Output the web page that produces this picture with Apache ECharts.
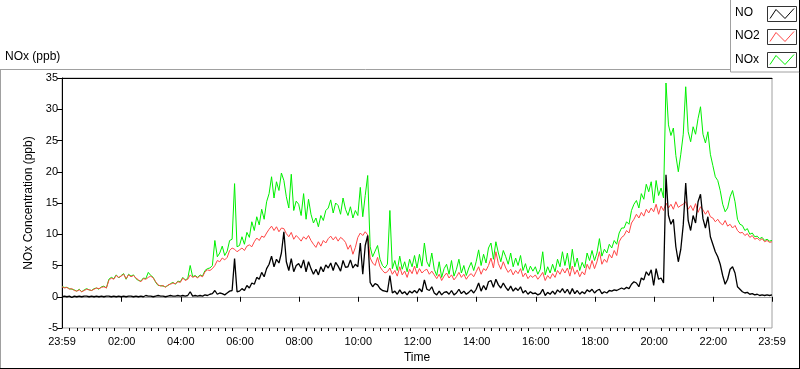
<!DOCTYPE html>
<html>
<head>
<meta charset="utf-8">
<script src="https://cdn.jsdelivr.net/npm/echarts@6/dist/echarts.min.js"></script>
<style>
html,body{margin:0;padding:0;background:#fff;}
#chart{width:800px;height:369px;}
</style>
</head>
<body>
<div id="chart"></div>
<script>
// Sampling step of the series (minutes from 23:59 of the previous day)
const STEP_MIN = 5;

// Tick labels of the time axis and their positions (minutes from 23:59)
const TICK_LABELS = ['23:59','02:00','04:00','06:00','08:00','10:00','12:00','14:00','16:00','18:00','20:00','22:00','23:59'];
const TICK_MINUTES = [0,121,241,361,481,601,721,841,961,1081,1201,1321,1440];

// NO2 (ppb), every 5 min
const NO2 = [
1.6,1.4,1.5,1.2,1.3,1.0,0.9,1.1,0.8,1.0,1.2,1.1,
1.0,1.2,1.4,1.3,1.5,1.6,1.4,2.6,3.0,2.8,3.4,3.1,
3.3,3.6,2.9,3.5,3.2,3.4,3.0,2.7,2.4,2.9,2.8,3.1,
3.3,3.0,2.4,1.9,1.7,1.8,1.5,1.9,2.0,2.2,2.1,2.4,
2.3,3.0,2.6,2.8,3.5,3.1,3.3,3.0,3.4,3.2,4.0,4.3,
4.2,4.5,5.0,5.8,5.6,6.2,5.9,6.3,7.4,7.8,7.6,7.2,
7.5,7.8,7.4,8.1,8.3,8.0,8.8,9.4,9.0,9.7,9.5,10.2,
10.8,11.3,10.6,11.2,10.4,11.0,10.9,10.1,9.6,10.3,9.2,9.8,
9.4,8.9,9.6,9.2,9.8,9.0,8.4,7.9,8.8,8.1,9.0,8.6,
9.3,9.7,9.1,9.6,8.9,9.5,9.2,8.7,7.6,8.3,6.8,7.9,
9.5,10.2,9.8,10.4,9.9,6.2,5.4,5.0,6.3,4.8,4.2,3.8,
4.0,4.6,3.6,4.2,3.3,4.8,3.5,4.1,3.1,4.4,3.7,4.9,
3.6,4.5,3.8,4.2,4.4,3.6,4.1,3.5,2.9,3.6,2.6,3.3,
3.8,3.0,3.5,2.7,3.2,3.9,3.1,3.6,2.8,3.4,3.7,3.2,
4.0,4.8,3.6,4.5,4.2,5.0,6.2,4.6,7.2,5.3,4.4,5.6,
4.6,3.9,4.4,3.5,4.2,3.7,4.5,3.2,3.8,2.9,3.4,3.1,
3.5,2.8,3.3,3.9,2.6,3.4,2.9,3.7,3.1,4.2,3.6,4.5,
3.8,4.6,3.3,4.9,3.6,4.3,3.2,4.0,3.5,5.2,4.4,5.8,
4.5,5.6,7.2,5.2,6.0,5.5,6.8,6.2,7.4,6.6,8.8,9.5,
9.8,10.6,10.2,11.8,12.4,13.2,12.6,13.5,12.9,14.0,13.4,14.2,
13.6,14.8,13.2,14.5,13.8,15.0,14.2,14.8,14.0,15.2,14.3,14.6,
14.8,15.2,14.0,14.6,13.8,14.9,13.5,14.4,13.9,13.2,13.8,12.8,
12.6,12.0,12.4,11.8,11.5,12.2,11.3,11.6,11.0,11.4,10.6,10.2,
10.3,9.8,10.1,9.5,9.8,9.2,9.4,9.0,9.3,8.8,9.0,8.7,
8.8
];

// NOx (ppb), every 5 min
const NOX = [
1.6,1.5,1.5,1.3,1.2,1.1,0.9,1.2,0.8,1.1,1.3,1.1,
1.0,1.3,1.4,1.2,1.6,1.7,1.4,2.8,3.1,2.9,3.5,3.0,
3.4,3.7,2.8,3.6,3.3,3.5,2.9,2.6,2.5,3.0,2.9,3.9,
3.4,3.1,2.3,1.8,1.8,1.7,1.6,1.8,2.1,2.3,2.0,2.5,
2.4,3.1,2.7,2.9,5.0,3.2,3.4,3.1,3.5,3.3,4.2,4.5,
4.6,5.0,9.0,6.4,7.0,8.1,6.6,7.3,9.0,9.2,18.1,8.0,
8.2,9.6,8.4,10.3,9.5,12.0,10.6,12.8,11.5,14.0,12.4,15.2,
16.5,19.2,15.8,18.4,17.0,19.8,18.6,16.0,14.2,19.6,13.8,15.3,
14.8,13.0,16.5,12.4,15.6,13.2,11.8,12.6,11.2,13.0,12.2,13.8,
14.2,15.5,13.4,15.0,14.6,13.2,15.8,14.0,13.0,14.4,12.6,13.8,
13.0,17.5,12.8,16.2,19.4,8.0,6.4,7.3,8.2,6.0,5.0,4.6,
5.2,13.8,4.5,5.8,4.2,6.5,4.4,5.6,4.0,6.0,4.8,6.6,
4.6,6.8,4.9,8.6,5.6,4.8,7.0,4.4,3.4,5.6,3.1,4.5,
5.2,3.6,5.8,3.3,4.4,6.0,3.8,5.0,3.4,4.6,5.5,4.2,
5.6,7.5,5.0,6.8,5.4,7.8,8.6,6.0,8.8,7.0,5.6,7.4,
6.4,5.2,7.0,4.8,6.2,5.0,6.6,4.2,5.3,3.8,4.9,4.1,
4.8,3.6,4.4,7.2,3.5,4.8,3.8,5.2,4.0,6.0,4.8,7.2,
5.0,7.0,4.4,7.6,4.8,6.2,4.2,5.5,4.6,7.0,5.8,7.4,
5.8,7.0,9.3,6.5,7.6,7.0,8.4,7.8,9.0,8.4,10.2,11.0,
11.0,12.0,11.6,13.8,14.8,15.4,14.2,16.5,15.6,18.0,16.8,18.4,
15.0,18.6,16.2,17.4,15.8,34.2,27.5,25.8,27.0,22.6,20.0,22.8,
26.0,33.6,26.4,24.8,27.2,26.0,28.5,30.4,26.0,24.6,26.4,22.8,
21.0,19.2,18.6,17.0,14.8,13.6,14.2,16.0,17.0,15.2,12.4,11.6,
11.4,10.6,10.9,10.0,10.2,9.6,9.7,9.3,9.5,9.0,9.2,8.9,
9.0
];

// NO (ppb), every 5 min
const NO = [
0.0,0.1,0.0,0.1,-0.1,0.1,0.0,0.1,0.0,0.1,0.1,0.0,
0.1,0.0,0.1,0.0,0.1,0.0,0.1,0.1,0.0,0.1,0.0,0.1,
0.0,0.1,0.0,0.1,0.1,0.0,0.1,0.0,0.1,0.0,0.2,0.1,
0.1,0.0,0.1,0.2,0.1,0.1,0.0,0.1,0.2,0.1,0.1,0.2,
0.1,0.2,0.1,0.2,0.8,0.1,0.2,0.1,0.2,0.1,0.3,0.2,
0.4,0.5,1.0,0.4,0.6,0.5,0.3,0.6,0.9,1.0,6.1,0.8,
0.9,1.3,1.0,1.8,1.4,2.2,2.0,3.1,2.8,3.9,3.2,4.5,
5.2,6.5,4.8,6.0,5.4,7.0,10.4,5.6,4.2,6.1,4.0,5.0,
5.3,4.6,5.9,4.0,5.6,4.5,3.6,4.4,3.5,4.8,4.0,5.1,
4.6,5.4,4.2,5.5,4.9,4.1,5.8,4.7,4.8,5.9,4.6,5.2,
4.8,8.6,3.6,8.2,9.8,2.3,1.6,2.1,1.9,1.3,1.0,0.9,
0.8,3.4,0.6,0.9,0.4,1.1,0.5,0.8,0.3,0.9,0.6,1.0,
0.6,1.3,0.8,2.7,1.2,1.0,1.6,0.6,0.3,0.9,0.3,0.7,
0.8,0.4,1.0,0.3,0.6,1.2,0.5,0.9,0.4,0.7,1.1,0.6,
1.2,2.2,0.9,1.8,1.1,2.4,2.6,1.5,2.8,1.9,1.4,2.2,
1.5,1.0,1.7,0.9,1.4,1.0,1.6,0.6,1.0,0.4,0.8,0.5,
0.6,0.3,0.5,1.2,0.2,0.7,0.4,0.9,0.4,1.1,0.7,1.3,
0.6,1.2,0.4,1.3,0.5,1.0,0.4,0.8,0.5,1.1,0.8,1.2,
0.6,1.0,1.2,0.5,0.8,0.6,1.0,0.9,1.1,1.0,1.2,1.4,
1.2,1.5,1.3,2.0,2.4,2.2,1.6,3.0,2.7,4.0,3.4,4.3,
1.8,4.5,2.8,3.0,2.2,19.5,13.0,11.6,12.4,8.0,5.6,7.6,
11.5,18.2,12.2,10.6,13.0,11.8,15.2,16.4,12.5,11.0,12.8,9.6,
8.4,7.2,6.4,5.2,3.4,2.0,2.8,4.4,4.8,3.8,1.6,1.2,
0.8,0.6,0.7,0.4,0.5,0.3,0.4,0.2,0.3,0.2,0.3,0.2,
0.3
];

const SERIES_NAMES = ['NO','NO2','NOx'];
const SERIES_COLORS = ['#000000','#ff4646','#00f000'];

const toPairs = arr => arr.map((v, i) => [i * STEP_MIN, v]);

// minor tick positions every ~15 min between labelled ticks
const minorTicks = [];
for (let i = 0; i < TICK_MINUTES.length - 1; i++) {
  const a = TICK_MINUTES[i], b = TICK_MINUTES[i + 1];
  for (let k = 1; k < 8; k++) minorTicks.push(a + (b - a) * k / 8);
}

const FONT = 'Liberation Sans';
const chart = echarts.init(document.getElementById('chart'), null, {renderer: 'canvas'});

function swatch(y, color) {
  return [
    {type:'rect', shape:{x:767.5, y:y, width:29, height:15}, style:{fill:'#fff', stroke:'#333', lineWidth:1}, z:101},
    {type:'polyline', shape:{points:[[770,y+12],[776,y+3],[785,y+12],[794,y+2]]}, style:{stroke:color, fill:null, lineWidth:1}, z:102}
  ];
}

const option = {
  animation: false,
  backgroundColor: '#fff',
  textStyle: {fontFamily: FONT},
  grid: {left: 62, right: 28, top: 78, bottom: 39, show: true, borderColor: '#a0a0a0', borderWidth: 1, backgroundColor: '#fff'},
  xAxis: [
    {
      type: 'value', min: 0, max: 1440, position: 'bottom',
      name: 'Time', nameLocation: 'middle', nameGap: 24,
      nameTextStyle: {color: '#000', fontSize: 12, fontFamily: FONT},
      axisLine: {show: true, lineStyle: {color: '#a0a0a0'}},
      axisTick: {show: true, length: 5, customValues: TICK_MINUTES, lineStyle: {color: '#000'}},
      axisLabel: {show: true, customValues: TICK_MINUTES, margin: 8, color: '#000', fontSize: 11, fontFamily: FONT,
        formatter: v => { const i = TICK_MINUTES.indexOf(Math.round(v)); return i >= 0 ? TICK_LABELS[i] : ''; }},
      splitLine: {show: false}
    },
    {
      type: 'value', min: 0, max: 1440, position: 'bottom',
      axisLine: {show: false},
      axisTick: {show: true, length: 3, customValues: minorTicks, lineStyle: {color: '#000'}},
      axisLabel: {show: false},
      splitLine: {show: false}
    },
    {
      type: 'value', min: 0, max: 1440, position: 'top',
      axisLine: {show: true, lineStyle: {color: '#000'}},
      axisTick: {show: false}, axisLabel: {show: false}, splitLine: {show: false}
    }
  ],
  yAxis: {
    type: 'value', min: -5, max: 35, interval: 5,
    name: 'NOx Concentration (ppb)', nameLocation: 'middle', nameGap: 24, nameRotate: 90,
    nameTextStyle: {color: '#000', fontSize: 12, fontFamily: FONT},
    axisLine: {show: true, lineStyle: {color: '#000'}},
    axisTick: {show: true, length: 5, lineStyle: {color: '#000'}},
    axisLabel: {color: '#000', fontSize: 11, margin: 4, fontFamily: FONT},
    splitLine: {show: false}
  },
  series: [
    {name: SERIES_NAMES[2], type: 'line', xAxisIndex: 0, data: toPairs(NOX), showSymbol: false, symbol: 'none',
      lineStyle: {color: SERIES_COLORS[2], width: 1}, itemStyle: {color: SERIES_COLORS[2]}, z: 2},
    {name: SERIES_NAMES[1], type: 'line', xAxisIndex: 0, data: toPairs(NO2), showSymbol: false, symbol: 'none',
      lineStyle: {color: SERIES_COLORS[1], width: 1}, itemStyle: {color: SERIES_COLORS[1]}, z: 3},
    {name: SERIES_NAMES[0], type: 'line', xAxisIndex: 0, data: toPairs(NO), showSymbol: false, symbol: 'none',
      lineStyle: {color: SERIES_COLORS[0], width: 1.3}, itemStyle: {color: SERIES_COLORS[0]}, z: 4}
  ],
  graphic: [
    // outer panel frame
    {type:'line', shape:{x1:0, y1:69.5, x2:731, y2:69.5}, style:{stroke:'#a0a0a0', lineWidth:1}, z:90},
    {type:'line', shape:{x1:0.5, y1:69.5, x2:0.5, y2:368}, style:{stroke:'#a0a0a0', lineWidth:1}, z:90},
    {type:'line', shape:{x1:0, y1:368.5, x2:800, y2:368.5}, style:{stroke:'#000', lineWidth:1}, z:90},
    {type:'line', shape:{x1:799.5, y1:69, x2:799.5, y2:369}, style:{stroke:'#000', lineWidth:1}, z:90},
    // title
    {type:'text', left: 5, top: 51, style:{text:'NOx (ppb)', fill:'#000', font:'12px ' + FONT}, z:95},
    // legend box
    {type:'rect', shape:{x:730.5, y:-1, width:69, height:73}, style:{fill:'#fff', stroke:'#a0a0a0', lineWidth:1}, z:100},
    {type:'line', shape:{x1:799.5, y1:0, x2:799.5, y2:72.5}, style:{stroke:'#000', lineWidth:1}, z:100},
    {type:'text', left: 735, top: 7, style:{text:SERIES_NAMES[0], fill:'#000', font:'12px ' + FONT}, z:101},
    {type:'text', left: 735, top: 30, style:{text:SERIES_NAMES[1], fill:'#000', font:'12px ' + FONT}, z:101},
    {type:'text', left: 735, top: 54, style:{text:SERIES_NAMES[2], fill:'#000', font:'12px ' + FONT}, z:101},
    ...swatch(6.5, SERIES_COLORS[0]),
    ...swatch(29.5, SERIES_COLORS[1]),
    ...swatch(52.5, SERIES_COLORS[2])
  ]
};
chart.setOption(option);
</script>
</body>
</html>
